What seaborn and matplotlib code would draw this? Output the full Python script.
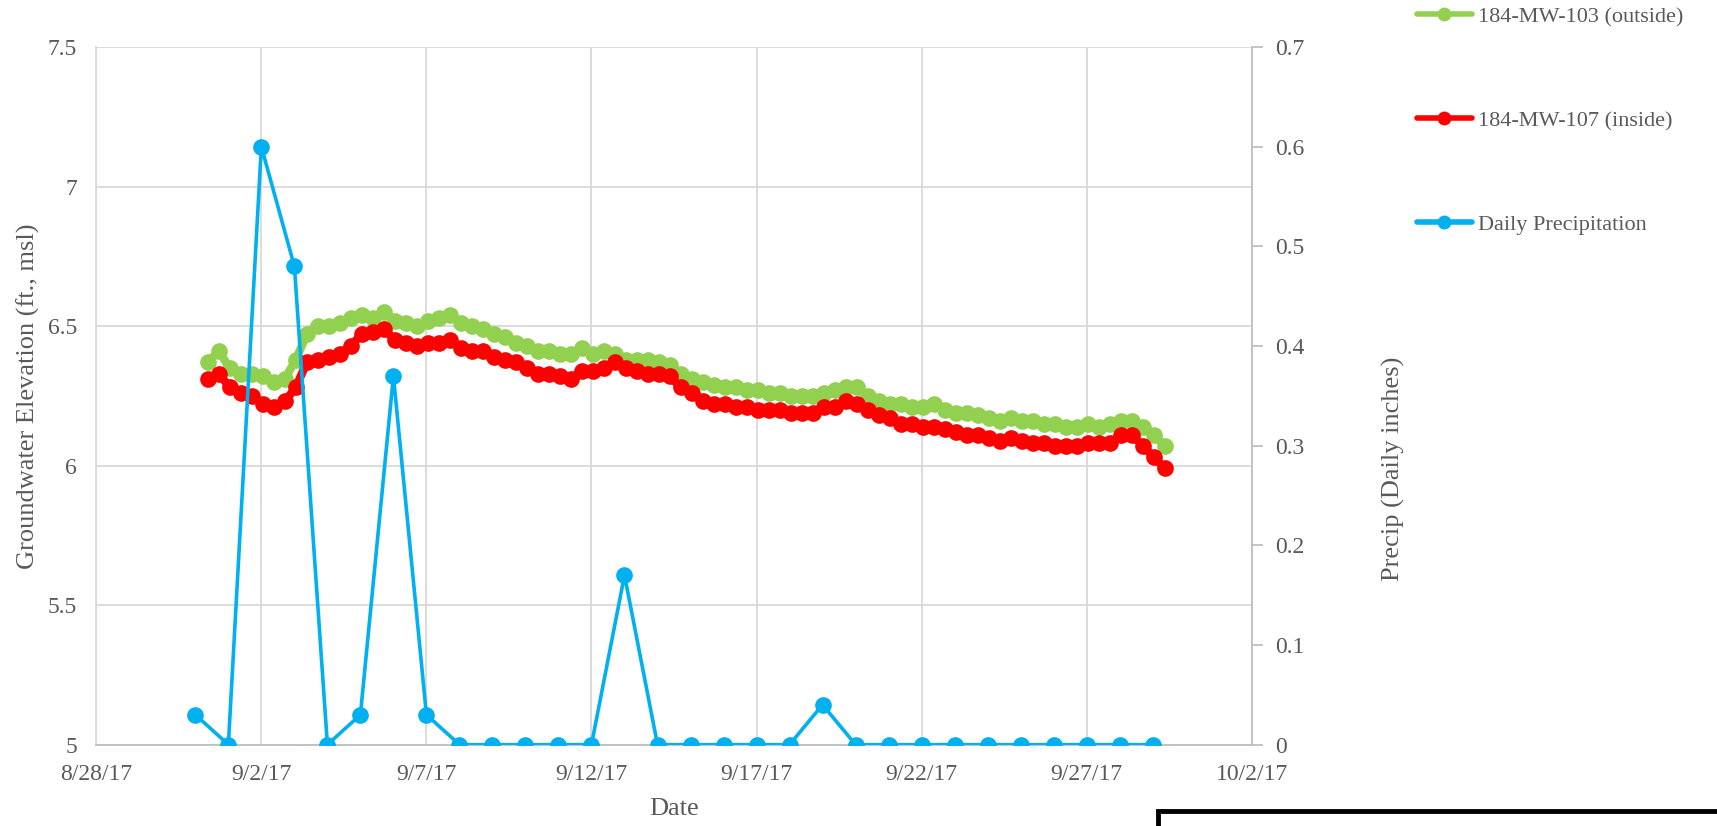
import numpy as np
import pandas as pd
import matplotlib
matplotlib.use("Agg")
import matplotlib.pyplot as plt
from matplotlib.lines import Line2D
from matplotlib.patches import Rectangle
import seaborn as sns

# ---- data ----
# groundwater readings every 8 hours starting 8/31/17 09:00
gw_start = "2017-08-31 09:00"
gw_step = "8h"
mw103_outside = [
    6.37, 6.41, 6.35, 6.33, 6.33, 6.32, 6.30, 6.31, 6.38, 6.47,
    6.50, 6.50, 6.51, 6.53, 6.54, 6.53, 6.55, 6.52, 6.51, 6.50,
    6.52, 6.53, 6.54, 6.51, 6.50, 6.49, 6.47, 6.46, 6.44, 6.43,
    6.41, 6.41, 6.40, 6.40, 6.42, 6.40, 6.41, 6.40, 6.38, 6.38,
    6.38, 6.37, 6.36, 6.33, 6.31, 6.30, 6.29, 6.28, 6.28, 6.27,
    6.27, 6.26, 6.26, 6.25, 6.25, 6.25, 6.26, 6.27, 6.28, 6.28,
    6.25, 6.23, 6.22, 6.22, 6.21, 6.21, 6.22, 6.20, 6.19, 6.19,
    6.18, 6.17, 6.16, 6.17, 6.16, 6.16, 6.15, 6.15, 6.14, 6.14,
    6.15, 6.14, 6.15, 6.16, 6.16, 6.14, 6.11, 6.07,
]
mw107_inside = [
    6.31, 6.33, 6.28, 6.26, 6.25, 6.22, 6.21, 6.23, 6.28, 6.37,
    6.38, 6.39, 6.40, 6.43, 6.47, 6.48, 6.49, 6.45, 6.44, 6.43,
    6.44, 6.44, 6.45, 6.42, 6.41, 6.41, 6.39, 6.38, 6.37, 6.35,
    6.33, 6.33, 6.32, 6.31, 6.34, 6.34, 6.35, 6.37, 6.35, 6.34,
    6.33, 6.33, 6.32, 6.28, 6.26, 6.23, 6.22, 6.22, 6.21, 6.21,
    6.20, 6.20, 6.20, 6.19, 6.19, 6.19, 6.21, 6.21, 6.23, 6.22,
    6.20, 6.18, 6.17, 6.15, 6.15, 6.14, 6.14, 6.13, 6.12, 6.11,
    6.11, 6.10, 6.09, 6.10, 6.09, 6.08, 6.08, 6.07, 6.07, 6.07,
    6.08, 6.08, 6.08, 6.11, 6.11, 6.07, 6.03, 5.99,
]

# daily precipitation 8/31/17 - 9/29/17
precip_dates = pd.date_range("2017-08-31", "2017-09-29", freq="D")
precip_inches = [
    0.03, 0.00, 0.60, 0.48, 0.00, 0.03, 0.37, 0.03, 0.00, 0.00,
    0.00, 0.00, 0.00, 0.17, 0.00, 0.00, 0.00, 0.00, 0.00, 0.04,
    0.00, 0.00, 0.00, 0.00, 0.00, 0.00, 0.00, 0.00, 0.00, 0.00,
]

gw_times = pd.date_range(gw_start, periods=len(mw103_outside), freq=gw_step)
gw = pd.DataFrame({"time": gw_times, "outside": mw103_outside, "inside": mw107_inside})
rain = pd.DataFrame({"date": precip_dates, "precip": precip_inches})

# ---- style ----
sns.set_style("white")
plt.rcParams["font.family"] = ["Liberation Serif", "DejaVu Serif"]
text_color = "#595959"
grid_color = "#d9d9d9"
axis_color = "#bfbfbf"
green, red, blue = "#92D050", "#FF0000", "#00B0F0"
tick_fs = 17
title_fs = 19
legend_fs = 16

fig = plt.figure(figsize=(17.17, 8.26), dpi=100)
ax = fig.add_axes([0.0561, 0.0985, 0.6729, 0.8445])
ax2 = ax.twinx()

sns.lineplot(data=gw, x="time", y="outside", ax=ax, color=green, lw=6,
             marker="o", markersize=12, markeredgewidth=0, zorder=3)
sns.lineplot(data=gw, x="time", y="inside", ax=ax, color=red, lw=6,
             marker="o", markersize=12, markeredgewidth=0, zorder=4)
sns.lineplot(data=rain, x="date", y="precip", ax=ax2, color=blue, lw=2.6,
             marker="o", markersize=12, markeredgewidth=0, zorder=5)

# left axis
ax.set_ylim(5, 7.5)
ax.set_yticks([5, 5.5, 6, 6.5, 7, 7.5])
ax.set_yticklabels(["5", "5.5", "6", "6.5", "7", "7.5"])
ax.set_xlim(pd.Timestamp("2017-08-28"), pd.Timestamp("2017-10-02"))
xt = pd.date_range("2017-08-28", "2017-10-02", freq="5D")
ax.set_xticks(xt)
ax.set_xticklabels([f"{d.month}/{d.day}/{d.strftime('%y')}" for d in xt])
ax.grid(True, color=grid_color, lw=1.3)
ax.set_axisbelow(True)
ax.tick_params(axis="both", length=0, labelsize=tick_fs, colors=text_color)
ax.tick_params(axis="y", pad=14)
ax.tick_params(axis="x", pad=14)
for s in ["top", "right"]:
    ax.spines[s].set_visible(False)
ax.spines["left"].set_color(grid_color)
ax.spines["left"].set_linewidth(1.3)
ax.spines["bottom"].set_color(axis_color)
ax.spines["bottom"].set_linewidth(1.3)

ax.set_xlabel("Date", fontsize=title_fs, color=text_color)
ax.xaxis.set_label_coords(0.5, -0.076)
ax.set_ylabel("Groundwater Elevation (ft., msl)", fontsize=title_fs, color=text_color)
ax.yaxis.set_label_coords(-0.049, 0.5)

# right axis
ax2.set_ylim(0, 0.7)
ax2.set_yticks(np.arange(0, 0.71, 0.1))
ax2.set_yticklabels(["0", "0.1", "0.2", "0.3", "0.4", "0.5", "0.6", "0.7"])
ax2.tick_params(axis="y", length=8, width=1.3, color=axis_color, pad=9,
                labelsize=tick_fs, labelcolor=text_color)
for s in ["top", "left", "bottom"]:
    ax2.spines[s].set_visible(False)
ax2.spines["right"].set_color(axis_color)
ax2.spines["right"].set_linewidth(1.3)
ax2.set_ylabel("Precip (Daily inches)", fontsize=title_fs, color=text_color)
ax2.yaxis.set_label_coords(1.113, 0.395)
ax2.grid(False)

# legend
handles = [
    Line2D([], [], color=green, lw=4, marker="o", markersize=10, markeredgewidth=0),
    Line2D([], [], color=red, lw=4, marker="o", markersize=10, markeredgewidth=0),
    Line2D([], [], color=blue, lw=4, marker="o", markersize=10, markeredgewidth=0),
]
labels = ["184-MW-103 (outside)", "184-MW-107 (inside)", "Daily Precipitation"]
fig.legend(handles, labels, loc="upper left", bbox_to_anchor=(0.825, 0.992),
           frameon=False, fontsize=legend_fs, labelcolor=text_color,
           labelspacing=3.75, handlelength=2.5, handletextpad=0.25,
           borderpad=0, borderaxespad=0)

# frame of the adjoining panel below
fig.patches.append(Rectangle((1158 / 1717, -0.05), 0.4, (826 - 811) / 826 + 0.05,
                             transform=fig.transFigure, fill=False,
                             edgecolor="black", lw=3.5))

fig.savefig("out.png", dpi=100, facecolor="white")
